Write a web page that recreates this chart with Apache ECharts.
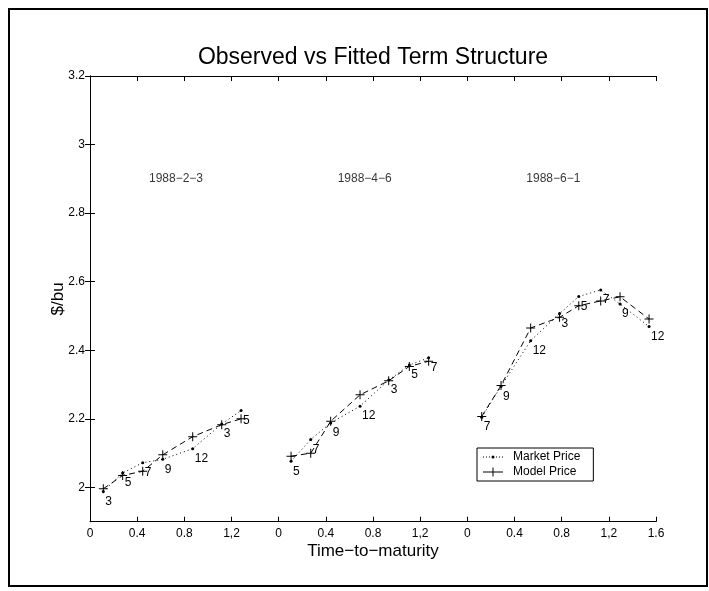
<!DOCTYPE html>
<html>
<head>
<meta charset="utf-8">
<script src="https://cdn.jsdelivr.net/npm/echarts@6/dist/echarts.min.js"></script>
<style>
html,body{margin:0;padding:0;background:#fff;}
#chart{width:709px;height:591px;}
</style>
</head>
<body>
<div id="chart"></div>
<script>
// ---- data ----
var panelDates = ['1988\u22122\u22123', '1988\u22124\u22126', '1988\u22126\u22121'];

var ttm1 = [0.113, 0.277, 0.447, 0.617, 0.871, 1.117, 1.281];
var market1 = [1.988, 2.042, 2.072, 2.082, 2.113, 2.185, 2.224];
var model1 = [1.996, 2.035, 2.047, 2.095, 2.148, 2.183, 2.200];
var months1 = ['3', '5', '7', '9', '12', '3', '5'];

var ttm2 = [0.105, 0.272, 0.441, 0.690, 0.933, 1.108, 1.272];
var market2 = [2.076, 2.140, 2.188, 2.237, 2.313, 2.357, 2.378];
var model2 = [2.091, 2.100, 2.193, 2.270, 2.311, 2.353, 2.368];
var months2 = ['5', '7', '9', '12', '3', '5', '7'];

var ttm3 = [0.122, 0.286, 0.537, 0.782, 0.945, 1.131, 1.295, 1.541];
var market3 = [2.205, 2.295, 2.428, 2.507, 2.557, 2.576, 2.535, 2.469];
var model3 = [2.207, 2.297, 2.465, 2.496, 2.530, 2.544, 2.556, 2.491];
var months3 = ['7', '9', '12', '3', '5', '7', '9', '12'];

var xTickValues = [0, 0.4, 0.8, 1.2, 1.6, 2.0, 2.4, 2.8, 3.2, 3.6, 4.0, 4.4, 4.8];
var xTickLabels = ['0', '0.4', '0.8', '1,2', '0', '0.4', '0.8', '1,2', '0', '0.4', '0.8', '1,2', '1.6'];
var yTickValues = [2, 2.2, 2.4, 2.6, 2.8, 3, 3.2];

var annotX = 0.5, annotY = 2.9;

// ---- chart ----
var FONT = 'Liberation Sans, Arial, Helvetica, sans-serif';
var chart = echarts.init(document.getElementById('chart'), null, {renderer: 'canvas'});

var plusPath = 'path://M4,0h1v4h4v1h-4v4h-1v-4h-4v-1h4z';
var marketIcon = 'path://M0,4.5h1v1h-1zM3,4.5h1v1h-1zM6,4.5h1v1h-1zM13,4.5h1v1h-1zM16,4.5h1v1h-1zM19,4.5h1v1h-1zM8.5,5a1.5,1.5 0 1,0 3,0a1.5,1.5 0 1,0 -3,0z';
var modelIcon = 'path://M0,4.5h6v1h-6zM14,4.5h6v1h-6zM9.5,0.5h1v4h4v1h-4v4h-1v-4h-4v-1h4z';

var panels = [
  {t: ttm1, mk: market1, md: model1, lab: months1},
  {t: ttm2, mk: market2, md: model2, lab: months2},
  {t: ttm3, mk: market3, md: model3, lab: months3}
];

var L = 90, T = 76, W = 566, H = 445.7;
var pw = W / 3;

var grids = [{left: L, top: T, width: W, height: H}];
var xAxes = [
  {gridIndex: 0, type: 'value', min: 0, max: 4.8, position: 'bottom',
   axisLine: {show: true, lineStyle: {color: '#000', width: 1}},
   axisTick: {show: true, inside: true, length: 5, customValues: xTickValues, lineStyle: {color: '#000'}},
   axisLabel: {show: true, customValues: xTickValues, margin: 6, color: '#000', fontFamily: FONT, fontSize: 12,
     formatter: function (v) { return xTickLabels[Math.round(v / 0.4)]; }},
   splitLine: {show: false},
   name: 'Time\u2212to\u2212maturity', nameLocation: 'middle', nameGap: 21, nameMoveOverlap: false,
   nameTextStyle: {color: '#000', fontFamily: FONT, fontSize: 17}},
  {gridIndex: 0, type: 'value', min: 0, max: 4.8, position: 'top',
   axisLine: {show: true, lineStyle: {color: '#000', width: 1}},
   axisTick: {show: true, inside: true, length: 5, customValues: xTickValues, lineStyle: {color: '#000'}},
   axisLabel: {show: false}, splitLine: {show: false}}
];
var yAxes = [
  {gridIndex: 0, type: 'value', min: 1.9, max: 3.2, position: 'left',
   axisLine: {show: true, lineStyle: {color: '#000', width: 1}},
   axisTick: {show: true, inside: true, length: 5, customValues: yTickValues, lineStyle: {color: '#000'}},
   axisLabel: {show: true, customValues: yTickValues, margin: 5, color: '#000', fontFamily: FONT, fontSize: 12},
   splitLine: {show: false},
   name: '$/bu', nameLocation: 'middle', nameGap: 23, nameRotate: 90, nameMoveOverlap: false,
   nameTextStyle: {color: '#000', fontFamily: FONT, fontSize: 17}},
  {gridIndex: 0, type: 'value', min: 1.9, max: 3.2, position: 'right',
   axisLine: {show: true, lineStyle: {color: '#000', width: 1}},
   axisTick: {show: true, inside: true, length: 5, customValues: yTickValues, lineStyle: {color: '#000'}},
   axisLabel: {show: false}, splitLine: {show: false}}
];

var series = [];
panels.forEach(function (p, i) {
  grids.push({left: L + i * pw, top: T, width: pw, height: H});
  xAxes.push({gridIndex: i + 1, type: 'value', min: 0, max: 1.6, show: false});
  yAxes.push({gridIndex: i + 1, type: 'value', min: 1.9, max: 3.2, show: false});
  var xi = i + 2, yi = i + 2;
  series.push({
    name: 'Market Price', type: 'line', xAxisIndex: xi, yAxisIndex: yi,
    data: p.mk.map(function (v, k) { return [p.t[k], v]; }),
    symbol: 'circle', symbolSize: 3, showAllSymbol: true,
    lineStyle: {type: [1, 3], width: 1, color: '#000'},
    itemStyle: {color: '#000'},
    label: {show: true, position: 'inside', align: 'left', verticalAlign: 'middle', offset: [2, 10],
      color: '#000', fontFamily: FONT, fontSize: 12,
      formatter: function (prm) { return p.lab[prm.dataIndex]; }},
    emphasis: {disabled: true}, animation: false, z: 3
  });
  series.push({
    name: 'Model Price', type: 'line', xAxisIndex: xi, yAxisIndex: yi,
    data: p.md.map(function (v, k) { return [p.t[k], v]; }),
    symbol: plusPath, symbolSize: 9, showAllSymbol: true,
    lineStyle: {type: [6, 4], width: 1, color: '#000'},
    itemStyle: {color: '#000'},
    emphasis: {disabled: true}, animation: false, z: 3
  });
  series.push({
    name: 'annot' + i, type: 'scatter', xAxisIndex: xi, yAxisIndex: yi,
    data: [[annotX, annotY]], symbolSize: 0, silent: true,
    label: {show: true, position: 'inside', align: 'left', verticalAlign: 'middle', offset: [0, 0],
      color: '#000', fontFamily: FONT, fontSize: 12,
      formatter: function () { return panelDates[i]; }},
    animation: false
  });
});

chart.setOption({
  animation: false,
  backgroundColor: '#fff',
  title: {text: 'Observed vs Fitted Term Structure', left: 368, textAlign: 'center', top: 41,
    textStyle: {color: '#000', fontFamily: FONT, fontSize: 23, fontWeight: 'normal'}},
  legend: {
    data: [{name: 'Market Price', icon: marketIcon}, {name: 'Model Price', icon: modelIcon}],
    orient: 'vertical', left: 477, top: 448,
    backgroundColor: '#fff', borderColor: '#000', borderWidth: 1, borderRadius: 0,
    padding: [3, 13, 3, 6], itemWidth: 20, itemHeight: 10, itemGap: 3,
    textStyle: {color: '#000', fontFamily: FONT, fontSize: 12, padding: [0, 0, 0, 5]},
    selectedMode: false
  },
  graphic: [{type: 'rect', shape: {x: 9, y: 9, width: 698, height: 577},
    style: {fill: 'none', stroke: '#000', lineWidth: 2}, silent: true, z: -1}],
  grid: grids,
  xAxis: xAxes,
  yAxis: yAxes,
  series: series
});
</script>
</body>
</html>
